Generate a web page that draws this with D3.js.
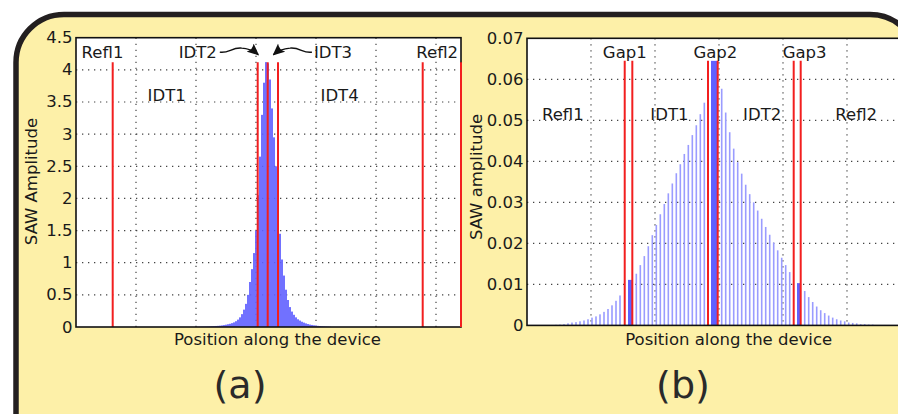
<!DOCTYPE html>
<html><head><meta charset="utf-8">
<script src="https://cdn.jsdelivr.net/npm/d3@7"></script>
<style>html,body{margin:0;padding:0;background:#fff;} svg{display:block;font-family:"DejaVu Sans",Verdana,sans-serif;}</style>
</head><body><svg id="c" width="898" height="414"></svg>
<script>
// ---------------- data ----------------
// Panel (a): SAW amplitude along a long device (position in bar-pitch units)
const aBarStart = 60;
const aAmp = [0.003,0.004,0.005,0.006,0.007,0.008,0.009,0.010,0.012,0.014,0.016,0.018,0.021,0.025,0.030,0.036,
  0.043,0.050,0.060,0.072,0.090,0.115,0.150,0.200,0.270,0.360,0.500,0.700,0.900,1.150,1.500,2.050,2.650,3.300,
  3.800,4.120,4.100,3.850,3.400,2.950,2.500,2.050,1.450,1.050,0.800,0.580,0.420,0.310,0.240,0.190,0.150,0.120,
  0.100,0.082,0.068,0.056,0.046,0.038,0.032,0.027,0.022,0.018,0.015,0.012,0.010,0.008,0.006,0.004];
const aDomain = [0, 192.5];
const aBoundaries = [18.35, 90.85, 95.85, 101, 173.35, 192.5];
const aGridX = [30, 60, 90, 120, 150, 180];
const aTickValues = [0, 0.5, 1, 1.5, 2, 2.5, 3, 3.5, 4, 4.5];
const aTickLabels = ["0", "0.5", "1", "1.5", "2", "2.5", "3", "3.5", "4", "4.5"];
const aLabelText = ["Refl1", "IDT2", "IDT3", "Refl2", "IDT1", "IDT4"];
const aLabelX = [13.25, 60.9, 128.5, 180.6, 45.35, 131.8];
const aLabelY = [4.19, 4.19, 4.19, 4.19, 3.51, 3.51];

// Panel (b): SAW amplitude per electrode (position in units along device)
const bDomain = [0, 93];
const bRefl1Start = 1.25, bIdt1Start = 27.33, bIdt2Start = 48.675, bRefl2Start = 69.425;
const bRefl1Amp = [0.00002,0.00003,0.00004,0.00006,0.00008,0.0001,0.00015,0.0002,0.0003,0.0005,0.0007,0.0008,
  0.0010,0.0012,0.0015,0.0019,0.0022,0.0027,0.0033,0.0040,0.0049,0.0060,0.0073];
const bIdt1Amp = [0.0126,0.0147,0.0169,0.0193,0.0220,0.0245,0.0271,0.0296,0.0322,0.0346,0.0371,0.0393,0.0418,
  0.0440,0.0464,0.0488,0.0515,0.0543];
const bIdt2Amp = [0.0577,0.0519,0.0471,0.0431,0.0398,0.0370,0.0343,0.0320,0.0300,0.0280,0.0260,0.0240,0.0221,
  0.0202,0.0183,0.0165,0.0147,0.0130];
const bRefl2Amp = [0.0084,0.0069,0.0057,0.0046,0.0037,0.0030,0.0024,0.0019,0.0015,0.0012,0.0010,0.0007,0.0006,
  0.0005,0.0003,0.0003,0.0002,0.0002,0.0001,0.0001,0.0001,0.0001];
const bGapAmp = [0.0111, 0.0645, 0.0103];
const bGapFrom = [25.25, 46, 67.5];
const bGapTo = [26.33, 47.675, 68.425];
const bBoundaries = [24.43, 26.33, 45.25, 47.675, 66.675, 68.425, 93];
const bGridX = [16, 32, 48, 64, 80];
const bTickValues = [0, 0.01, 0.02, 0.03, 0.04, 0.05, 0.06, 0.07];
const bTickLabels = ["0", "0.01", "0.02", "0.03", "0.04", "0.05", "0.06", "0.07"];
const bLabelText = ["Gap1", "Gap2", "Gap3", "Refl1", "IDT1", "IDT2", "Refl2"];
const bLabelX = [24.45, 47.1, 69.4, 8.95, 35.6, 58.8, 82.3];
const bLabelY = [0.0652, 0.0652, 0.0652, 0.0500, 0.0500, 0.0500, 0.0500];

// ---------------- drawing ----------------
const svg = d3.select("#c");
const TXT = "#1a1a1a", RED = "#f21f1f", FS = 16.5;

svg.append("rect").attr("width", 898).attr("height", 414).attr("fill", "#fff");
svg.append("rect").attr("x", 16).attr("y", 14.5).attr("width", 902).attr("height", 480)
  .attr("rx", 48).attr("fill", "#fdf0a8").attr("stroke", "#231f20").attr("stroke-width", 5.5);

const defs = svg.append("defs");
defs.append("marker").attr("id", "arr").attr("viewBox", "0 0 10 10").attr("refX", 9).attr("refY", 5)
  .attr("markerWidth", 12).attr("markerHeight", 12).attr("markerUnits", "userSpaceOnUse").attr("orient", "auto")
  .append("path").attr("d", "M0,0.5 L10,5 L0,9.5 Q3,5 0,0.5 Z").attr("fill", "#111");

function panel(o) {
  const x = d3.scaleLinear().domain(o.xDomain).range(o.xRange);
  const y = d3.scaleLinear().domain([0, o.yMax]).range(o.yRange);
  const g = svg.append("g");
  const [x0, x1] = o.xRange, [yb, yt] = o.yRange;
  g.append("rect").attr("x", x0).attr("y", yt).attr("width", x1 - x0).attr("height", yb - yt).attr("fill", "#fff");
  g.selectAll(".gx").data(o.gridX).join("line").attr("x1", d => x(d)).attr("x2", d => x(d))
    .attr("y1", yt).attr("y2", yb).attr("stroke", "#444").attr("stroke-width", 1.2).attr("stroke-dasharray", "1.3,4.7");
  g.selectAll(".gy").data(o.ticks.filter(v => v > 0 && v < o.yMax)).join("line")
    .attr("x1", x0).attr("x2", x1).attr("y1", d => y(d)).attr("y2", d => y(d))
    .attr("stroke", "#444").attr("stroke-width", 1.2).attr("stroke-dasharray", "1.3,4.7");
  return {x, y, g};
}

// ===== Panel (a) =====
{
  const P = panel({xDomain: aDomain, xRange: [76, 461], yMax: 4.5, yRange: [327, 37.7], gridX: aGridX, ticks: aTickValues});
  const {x, y, g} = P;
  const bw = (x(1) - x(0)) * 0.9;
  g.selectAll(".ba").data(aAmp).join("rect")
    .attr("x", (d, i) => x(aBarStart + i) - bw / 2).attr("width", bw)
    .attr("y", d => y(d)).attr("height", d => y(0) - y(d)).attr("fill", "#6262ff");
  const top = d3.max(aAmp);
  g.selectAll(".ra").data(aBoundaries).join("line").attr("x1", d => x(d)).attr("x2", d => x(d))
    .attr("y1", y(0)).attr("y2", y(top)).attr("stroke", RED).attr("stroke-width", 2);
  g.append("rect").attr("x", 76).attr("y", 37.7).attr("width", 385).attr("height", 327 - 37.7)
    .attr("fill", "none").attr("stroke", "#111").attr("stroke-width", 1.6);
  g.append("line").attr("x1", x(aDomain[1])).attr("x2", x(aDomain[1])).attr("y1", y(0)).attr("y2", y(top))
    .attr("stroke", RED).attr("stroke-width", 2);
  g.selectAll(".ta").data(aTickValues).join("text").attr("x", 72.5).attr("y", d => y(d) + 5.5)
    .attr("text-anchor", "end").attr("font-size", FS).attr("fill", TXT).text((d, i) => aTickLabels[i]);
  g.selectAll(".la").data(aLabelText).join("text").attr("x", (d, i) => x(aLabelX[i])).attr("y", (d, i) => y(aLabelY[i]))
    .attr("text-anchor", "middle").attr("font-size", FS).attr("fill", TXT).text(d => d);
  // arrows to the narrow IDT2 / IDT3
  const yA = y(4.19) - 5.5;
  const l = x(60.9) + 22, r = x(90.85) + 0.5;
  g.append("path").attr("d", `M${l},${yA} C${l + 9},${yA + 1.5} ${l + 12},${yA - 5} ${l + 22},${yA - 4} C${l + 29},${yA - 3.5} ${r - 4},${yA - 1} ${r},${yA + 2.5}`)
    .attr("fill", "none").attr("stroke", "#111").attr("stroke-width", 1.4).attr("marker-end", "url(#arr)");
  const rr = x(128.5) - 21, ll = x(98.5) + 0.5;
  g.append("path").attr("d", `M${rr},${yA} C${rr - 9},${yA + 1.5} ${rr - 12},${yA - 5} ${rr - 22},${yA - 4} C${rr - 29},${yA - 3.5} ${ll + 4},${yA - 1} ${ll},${yA + 2.5}`)
    .attr("fill", "none").attr("stroke", "#111").attr("stroke-width", 1.4).attr("marker-end", "url(#arr)");
  svg.append("text").attr("transform", "translate(36.5,181.5) rotate(-90)").attr("text-anchor", "middle")
    .attr("font-size", FS).attr("fill", TXT).text("SAW Amplitude");
  svg.append("text").attr("x", 277.5).attr("y", 345).attr("text-anchor", "middle").attr("font-size", FS)
    .attr("fill", TXT).text("Position along the device");
  svg.append("text").attr("x", 240).attr("y", 398).attr("text-anchor", "middle").attr("font-size", 38)
    .attr("fill", "#2a2a2a").text("(a)");
}

// ===== Panel (b) =====
{
  const P = panel({xDomain: bDomain, xRange: [527, 899], yMax: 0.07, yRange: [325.4, 38.3], gridX: bGridX, ticks: bTickValues});
  const {x, y, g} = P;
  const segs = [[bRefl1Start, bRefl1Amp], [bIdt1Start, bIdt1Amp], [bIdt2Start, bIdt2Amp], [bRefl2Start, bRefl2Amp]];
  const bars = segs.flatMap(([s, arr]) => arr.map((v, i) => ({p: s + i, v})));
  g.selectAll(".bb").data(bars).join("rect")
    .attr("x", d => x(d.p) - 0.8).attr("width", 1.6)
    .attr("y", d => y(d.v)).attr("height", d => y(0) - y(d.v)).attr("fill", "#9a9cff");
  g.selectAll(".gb").data(bGapAmp).join("rect")
    .attr("x", (d, i) => x(bGapFrom[i])).attr("width", (d, i) => x(bGapTo[i]) - x(bGapFrom[i]))
    .attr("y", d => y(d)).attr("height", d => y(0) - y(d)).attr("fill", "#6060ff");
  const top = d3.max(bGapAmp);
  g.selectAll(".rb").data(bBoundaries).join("line").attr("x1", d => x(d)).attr("x2", d => x(d))
    .attr("y1", y(0)).attr("y2", y(top)).attr("stroke", RED).attr("stroke-width", 2);
  g.append("rect").attr("x", 527).attr("y", 38.3).attr("width", 372).attr("height", 325.4 - 38.3)
    .attr("fill", "none").attr("stroke", "#111").attr("stroke-width", 1.6);
  g.selectAll(".tb").data(bTickValues).join("text").attr("x", 523.5).attr("y", d => y(d) + 5.5)
    .attr("text-anchor", "end").attr("font-size", FS).attr("fill", TXT).text((d, i) => bTickLabels[i]);
  g.selectAll(".lb").data(bLabelText).join("text").attr("x", (d, i) => x(bLabelX[i])).attr("y", (d, i) => y(bLabelY[i]))
    .attr("text-anchor", "middle").attr("font-size", FS).attr("fill", TXT).text(d => d);
  svg.append("text").attr("transform", "translate(481.5,177) rotate(-90)").attr("text-anchor", "middle")
    .attr("font-size", FS).attr("fill", TXT).text("SAW amplitude");
  svg.append("text").attr("x", 728.7).attr("y", 345).attr("text-anchor", "middle").attr("font-size", FS)
    .attr("fill", TXT).text("Position along the device");
  svg.append("text").attr("x", 683).attr("y", 398).attr("text-anchor", "middle").attr("font-size", 38)
    .attr("fill", "#2a2a2a").text("(b)");
}
</script></body></html>
